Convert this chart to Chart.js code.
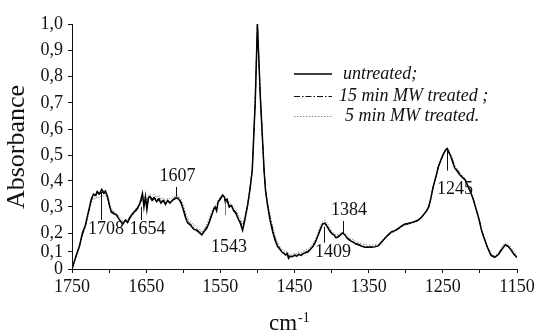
<!DOCTYPE html>
<html>
<head>
<meta charset="utf-8">
<script src="https://cdn.jsdelivr.net/npm/chart.js@4.4.1/dist/chart.umd.min.js"></script>
<style>
  html, body { margin: 0; padding: 0; background: #fff; }
  canvas { display: block; }
</style>
</head>
<body>
<canvas id="c" width="553" height="332"></canvas>
<script>
// ---------------- DATA ----------------
const wavenumbers = [
  1750,1745,1740,1736,1732,1728,1724,1721,1718,1716,1713,1710,1707,1705,1702,1699,1697,1694,1690,1687,
  1684,1681,1678,1675,1672,1668,1665,1662,1659,1657,1655,1653,1651,1649,1647,1645,1642,1639,1636,1633,
  1630,1627,1624,1621,1618,1615,1612,1609,1606,1603,1600,1597,1594,1590,1586,1582,1578,1575,1572,1568,
  1565,1562,1559,1557,1555,1553,1550,1547,1545,1543,1541,1538,1535,1532,1529,1526,1523,1520,1517,1513,
  1510,1507,1503,1500,1496,1491,1489,1486,1483,1479,1476,1473,1470,1467,1464,1462,1460,1458,1456,1453,
  1450,1447,1444,1441,1438,1435,1432,1429,1425,1422,1418,1415,1412,1409,1406,1403,1400,1397,1394,1391,
  1388,1385,1382,1379,1375,1371,1367,1363,1359,1355,1350,1346,1342,1337,1333,1328,1324,1319,1314,1310,
  1305,1301,1296,1292,1287,1283,1279,1276,1272,1269,1266,1263,1259,1256,1252,1249,1246,1244,1242,1240,
  1237,1234,1230,1227,1224,1220,1217,1213,1209,1205,1201,1198,1195,1190,1185,1180,1175,1170,1166,1162,
  1158,1154,1150
];

const untreated = [
  0.00,0.07,0.13,0.20,0.23,0.28,0.33,0.35,0.345,0.36,0.35,0.368,0.355,0.362,0.34,0.30,0.28,0.275,0.27,0.255,
  0.243,0.235,0.25,0.24,0.26,0.275,0.285,0.295,0.31,0.33,0.352,0.30,0.34,0.29,0.335,0.34,0.325,0.335,0.32,0.33,
  0.315,0.325,0.31,0.325,0.315,0.325,0.33,0.335,0.33,0.315,0.29,0.26,0.238,0.23,0.215,0.21,0.20,0.19,0.205,0.22,
  0.24,0.265,0.29,0.30,0.285,0.32,0.33,0.345,0.34,0.325,0.33,0.30,0.305,0.285,0.275,0.255,0.237,0.21,0.25,0.31,
  0.37,0.44,0.70,1.00,0.72,0.44,0.36,0.30,0.25,0.20,0.16,0.13,0.115,0.10,0.09,0.082,0.09,0.063,0.075,0.072,
  0.08,0.075,0.085,0.08,0.092,0.095,0.10,0.112,0.13,0.15,0.19,0.215,0.235,0.237,0.225,0.21,0.198,0.19,0.175,0.18,
  0.19,0.20,0.19,0.172,0.16,0.152,0.142,0.137,0.13,0.125,0.125,0.125,0.127,0.132,0.15,0.172,0.19,0.205,0.21,0.218,
  0.228,0.235,0.238,0.24,0.245,0.25,0.26,0.27,0.285,0.30,0.335,0.378,0.42,0.455,0.485,0.505,0.52,0.525,0.51,0.50,
  0.475,0.45,0.435,0.423,0.415,0.404,0.385,0.36,0.33,0.29,0.25,0.212,0.18,0.125,0.08,0.068,0.085,0.115,0.137,0.13,
  0.11,0.085,0.068
];

const mw15 = [
  0.00,0.07,0.13,0.19,0.225,0.275,0.325,0.345,0.34,0.355,0.345,0.36,0.35,0.355,0.335,0.30,0.285,0.28,0.265,0.255,
  0.245,0.24,0.245,0.245,0.255,0.27,0.28,0.29,0.305,0.32,0.345,0.31,0.335,0.30,0.33,0.345,0.33,0.34,0.325,0.335,
  0.32,0.33,0.315,0.325,0.32,0.325,0.335,0.34,0.335,0.32,0.295,0.265,0.245,0.235,0.22,0.215,0.205,0.20,0.21,0.225,
  0.245,0.27,0.295,0.30,0.295,0.32,0.335,0.345,0.34,0.31,0.325,0.305,0.305,0.29,0.28,0.26,0.245,0.22,0.255,0.31,
  0.37,0.44,0.70,1.00,0.72,0.44,0.365,0.305,0.26,0.21,0.17,0.14,0.12,0.105,0.095,0.09,0.095,0.075,0.08,0.075,
  0.085,0.08,0.09,0.085,0.095,0.10,0.105,0.115,0.135,0.155,0.19,0.22,0.235,0.24,0.228,0.215,0.20,0.19,0.18,0.185,
  0.19,0.20,0.19,0.175,0.165,0.155,0.145,0.14,0.133,0.128,0.127,0.127,0.13,0.135,0.152,0.172,0.188,0.20,0.208,0.215,
  0.225,0.232,0.235,0.238,0.243,0.248,0.258,0.268,0.283,0.30,0.335,0.378,0.42,0.455,0.485,0.505,0.52,0.525,0.515,0.505,
  0.48,0.455,0.44,0.428,0.418,0.406,0.386,0.36,0.33,0.292,0.252,0.215,0.182,0.128,0.083,0.072,0.09,0.12,0.14,0.133,
  0.115,0.09,0.072
];

const mw5 = [
  0.00,0.07,0.125,0.19,0.22,0.27,0.315,0.335,0.33,0.34,0.335,0.345,0.34,0.345,0.33,0.31,0.295,0.285,0.275,0.265,
  0.255,0.245,0.25,0.25,0.265,0.28,0.29,0.30,0.315,0.325,0.345,0.33,0.345,0.32,0.345,0.35,0.34,0.35,0.335,0.345,
  0.33,0.335,0.325,0.335,0.33,0.335,0.34,0.345,0.34,0.33,0.31,0.28,0.255,0.245,0.23,0.225,0.215,0.205,0.215,0.235,
  0.255,0.28,0.30,0.305,0.31,0.325,0.34,0.35,0.345,0.34,0.335,0.315,0.31,0.30,0.29,0.27,0.255,0.235,0.26,0.315,
  0.37,0.44,0.70,1.00,0.72,0.445,0.37,0.315,0.27,0.22,0.18,0.15,0.13,0.115,0.105,0.10,0.105,0.09,0.09,0.085,
  0.095,0.09,0.10,0.095,0.105,0.11,0.115,0.125,0.145,0.165,0.20,0.23,0.245,0.25,0.238,0.225,0.21,0.20,0.19,0.195,
  0.20,0.205,0.20,0.185,0.175,0.165,0.155,0.15,0.143,0.138,0.137,0.136,0.138,0.14,0.158,0.178,0.192,0.205,0.21,0.215,
  0.225,0.23,0.235,0.238,0.243,0.25,0.26,0.272,0.288,0.305,0.34,0.38,0.42,0.455,0.485,0.505,0.52,0.52,0.515,0.505,
  0.485,0.46,0.445,0.432,0.422,0.41,0.39,0.362,0.333,0.295,0.255,0.218,0.186,0.132,0.088,0.078,0.097,0.128,0.148,0.142,
  0.125,0.10,0.082
];

const seriesLabels = ['untreated;', '15 min MW treated ;', '5 min MW treated.'];

const xTickValues = [1750,1700,1650,1600,1550,1500,1450,1400,1350,1300,1250,1200,1150];
const xTickLabels = ['1750','','1650','','1550','','1450','','1350','','1250','','1150'];
const yTickValues = [0,0.1,0.2,0.3,0.4,0.5,0.6,0.7,0.8,0.9,1.0];
const yTickLabels = ['0','0,1','0,2','0,3','0,4','0,5','0,6','0,7','0,8','0,9','1,0'];
// the original y axis is not evenly spaced near the bottom: fraction of axis height for each tick value
const yTickFractions = [0, 0.0694, 0.1469, 0.2531, 0.3592, 0.4653, 0.5714, 0.6776, 0.7857, 0.8910, 1];

// peak annotations (data coordinates)
const peakLabels = ['1708','1654','1607','1543','1409','1384','1245'];
const peakLineX  = [1711, 1657, 1610, 1543.7, 1409.8, 1384.2, 1244.4];
const peakLineTop = [0.359, 0.301, 0.377, 0.314, 0.224, 0.246, 0.519];
const peakLineBottom = [0.25, 0.25, 0.34, 0.269, 0.149, 0.195, 0.44];
const peakTextX = [1704.2, 1648.2, 1607.8, 1538.3, 1398.1, 1376.5, 1233.6];
const peakTextY = [0.214, 0.214, 0.4165, 0.125, 0.096, 0.288, 0.368];

// ---------------- custom piecewise-linear value scale ----------------
function valToDec(v) {
  const n = yTickValues.length;
  if (v <= yTickValues[0]) return yTickFractions[0];
  for (let i = 1; i < n; i++) {
    if (v <= yTickValues[i]) {
      const t = (v - yTickValues[i-1]) / (yTickValues[i] - yTickValues[i-1]);
      return yTickFractions[i-1] + t * (yTickFractions[i] - yTickFractions[i-1]);
    }
  }
  const t = (v - yTickValues[n-2]) / (yTickValues[n-1] - yTickValues[n-2]);
  return yTickFractions[n-2] + t * (yTickFractions[n-1] - yTickFractions[n-2]);
}
function decToVal(d) {
  const n = yTickFractions.length;
  for (let i = 1; i < n; i++) {
    if (d <= yTickFractions[i] || i === n-1) {
      const t = (d - yTickFractions[i-1]) / (yTickFractions[i] - yTickFractions[i-1]);
      return yTickValues[i-1] + t * (yTickValues[i] - yTickValues[i-1]);
    }
  }
}
class PiecewiseScale extends Chart.LinearScale {
  getPixelForValue(value) {
    if (value === null || value === undefined || isNaN(value)) return NaN;
    return this.getPixelForDecimal(valToDec(value));
  }
  getValueForPixel(pixel) {
    return decToVal(this.getDecimalForPixel(pixel));
  }
}
PiecewiseScale.id = 'piecewise';
PiecewiseScale.defaults = Chart.LinearScale.defaults;
Chart.register(PiecewiseScale);

// ---------------- build datasets ----------------
function pts(vals) { return wavenumbers.map((w, i) => ({ x: w, y: vals[i] })); }

const SERIF = '"Liberation Serif", "Times New Roman", serif';

const datasets = [
  { label: seriesLabels[0], data: pts(untreated), borderColor: '#000', borderWidth: 1.5, borderDash: [] },
  { label: seriesLabels[1], data: pts(mw15), borderColor: '#111', borderWidth: 1, borderDash: [6, 2, 1.5, 2] },
  { label: seriesLabels[2], data: pts(mw5), borderColor: '#8a8a8a', borderWidth: 1, borderDash: [1.5, 1.5] }
];
datasets.forEach(d => { d.pointRadius = 0; d.tension = 0; d.fill = false; });

// ---------------- text plugin ----------------
const textPlugin = {
  id: 'texts',
  afterDraw(chart) {
    const ctx = chart.ctx;
    const xs = chart.scales.x, ys = chart.scales.y;
    ctx.save();
    // peak annotations
    ctx.fillStyle = '#111';
    ctx.font = '18px ' + SERIF;
    ctx.textAlign = 'center';
    ctx.textBaseline = 'middle';
    for (let i = 0; i < peakLabels.length; i++) {
      const lx = Math.round(xs.getPixelForValue(peakLineX[i])) + 0.5;
      ctx.strokeStyle = i === 3 ? '#777' : '#111';
      ctx.lineWidth = 1;
      ctx.setLineDash([]);
      ctx.beginPath();
      ctx.moveTo(lx, ys.getPixelForValue(peakLineTop[i]));
      ctx.lineTo(lx, ys.getPixelForValue(peakLineBottom[i]));
      ctx.stroke();
      ctx.fillText(peakLabels[i], xs.getPixelForValue(peakTextX[i]), ys.getPixelForValue(peakTextY[i]));
    }
    // legend
    const legX0 = 294, legX1 = 332;
    const legY = [74, 96.5, 116.5];
    const legTextX = [343, 339, 345];
    ctx.textAlign = 'left';
    ctx.font = 'italic 18px ' + SERIF;
    chart.data.datasets.forEach((d, i) => {
      ctx.strokeStyle = d.borderColor;
      ctx.lineWidth = d.borderWidth;
      ctx.setLineDash(d.borderDash || []);
      ctx.beginPath();
      ctx.moveTo(legX0, legY[i]);
      ctx.lineTo(legX1, legY[i]);
      ctx.stroke();
      ctx.setLineDash([]);
      ctx.fillStyle = '#111';
      ctx.fillText(d.label, legTextX[i], legY[i]);
    });
    // axis titles
    ctx.fillStyle = '#111';
    ctx.save();
    ctx.translate(17.5, 147);
    ctx.rotate(-Math.PI / 2);
    ctx.textAlign = 'center';
    ctx.textBaseline = 'middle';
    ctx.font = '26px ' + SERIF;
    ctx.fillText('Absorbance', 0, 0);
    ctx.restore();
    ctx.textAlign = 'left';
    ctx.textBaseline = 'alphabetic';
    ctx.font = '23px ' + SERIF;
    ctx.fillText('cm', 269, 330);
    const cmW = ctx.measureText('cm').width;
    ctx.font = '14px ' + SERIF;
    ctx.fillText('-1', 269 + cmW + 1, 322);
    ctx.restore();
  }
};

new Chart(document.getElementById('c'), {
  type: 'line',
  data: { datasets },
  plugins: [textPlugin],
  options: {
    responsive: false,
    animation: false,
    devicePixelRatio: 1,
    layout: { padding: { top: 24, right: 36, left: 0, bottom: 0 } },
    plugins: { legend: { display: false }, tooltip: { enabled: false } },
    scales: {
      x: {
        type: 'linear',
        reverse: true,
        min: 1150,
        max: 1750,
        afterFit(s) { s.height = 63; },
        afterBuildTicks(s) { s.ticks = xTickValues.map(v => ({ value: v })); },
        ticks: {
          color: '#111',
          font: { family: SERIF, size: 18 },
          padding: 3,
          maxRotation: 0,
          autoSkip: false,
          callback(v) { const i = xTickValues.indexOf(v); return i >= 0 ? xTickLabels[i] : ''; }
        },
        grid: { drawOnChartArea: false, drawTicks: true, tickLength: 4, color: '#111' },
        border: { display: true, color: '#111', width: 1 }
      },
      y: {
        type: 'piecewise',
        min: 0,
        max: 1,
        afterFit(s) { s.width = 72; },
        afterBuildTicks(s) { s.ticks = yTickValues.map(v => ({ value: v })); },
        ticks: {
          color: '#111',
          font: { family: SERIF, size: 18 },
          padding: 5,
          autoSkip: false,
          callback(v, i) { return yTickLabels[i]; }
        },
        grid: { drawOnChartArea: false, drawTicks: true, tickLength: 4, color: '#111' },
        border: { display: true, color: '#111', width: 1 }
      }
    }
  }
});
</script>
</body>
</html>
